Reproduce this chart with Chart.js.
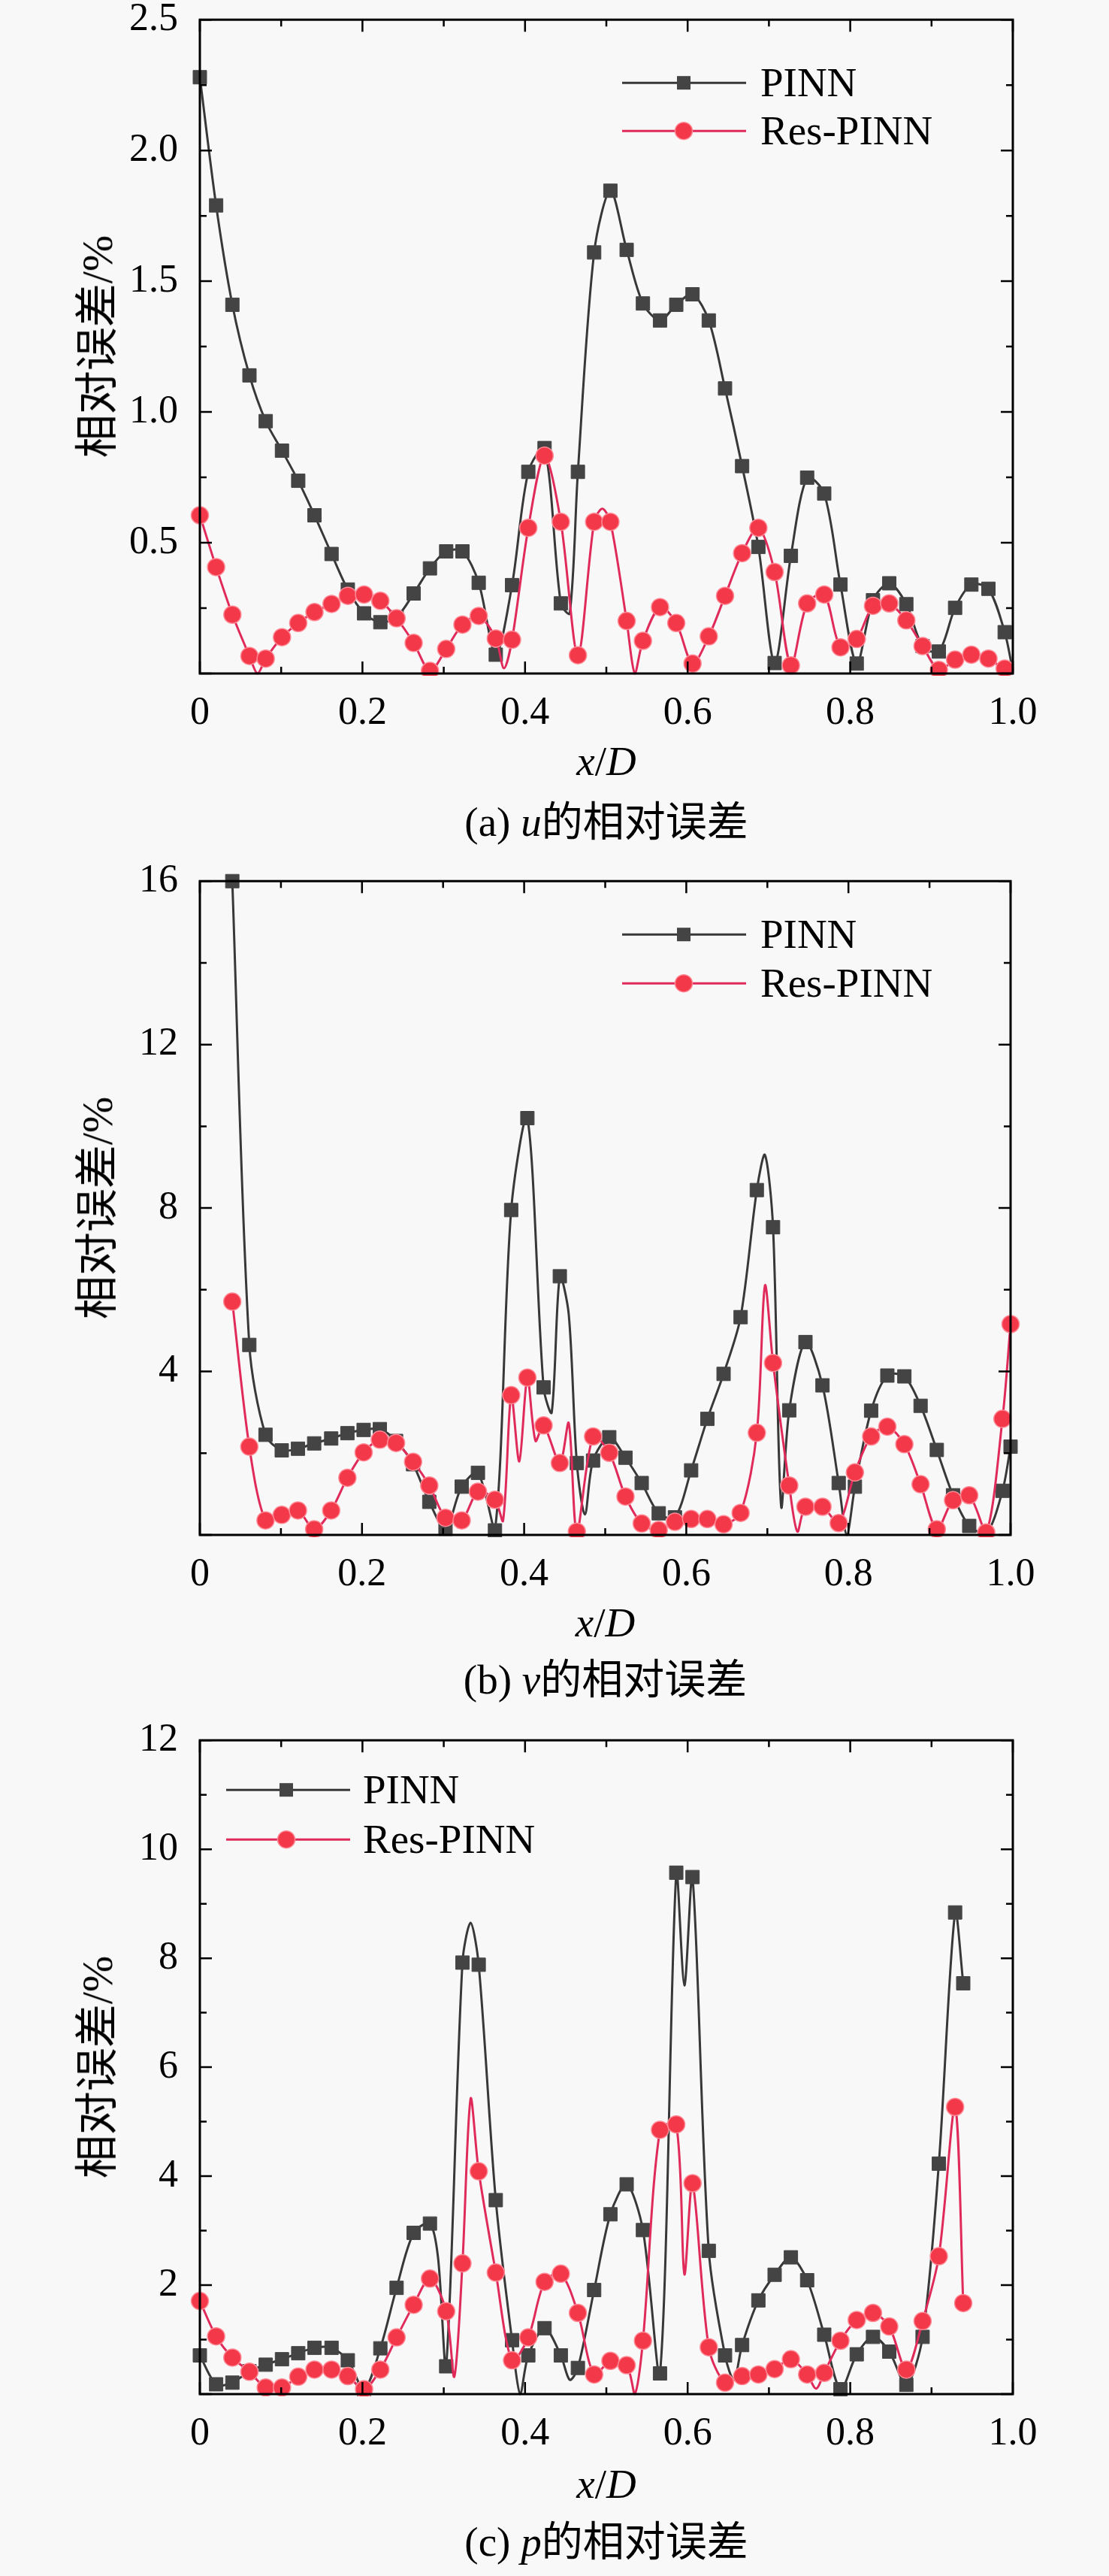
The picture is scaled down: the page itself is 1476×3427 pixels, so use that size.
<!DOCTYPE html>
<html>
<head>
<meta charset="utf-8">
<script src="https://cdn.jsdelivr.net/npm/chart.js"></script>
<style>
body{margin:0;background:#f8f8f8;}
#page{position:relative;width:1476px;height:3427px;overflow:hidden;font-family:'Liberation Serif','Noto Sans CJK SC',serif;color:#000;}
canvas{position:absolute;left:0;}
.lbl{position:absolute;white-space:nowrap;transform:translate(-50%,-50%);line-height:1;}
.ytitle{transform:translate(-50%,-50%) rotate(-90deg);font-size:58px;}
.xtitle{font-size:55px;}
.cap{font-size:55px;}
</style>
</head>
<body>
<div id="page"></div>
<script>
// ================= Data =================
// sample positions x/D shared by all three panels
const xs=[0,0.020,0.040,0.061,0.081,0.101,0.121,0.141,0.162,0.182,0.202,0.222,0.242,0.263,0.283,0.303,0.323,0.343,0.364,0.384,
0.404,0.424,0.444,0.465,0.485,0.505,0.525,0.545,0.566,0.586,0.606,0.626,0.646,0.667,0.687,0.707,0.727,0.747,0.768,0.788,
0.808,0.828,0.848,0.869,0.889,0.909,0.929,0.949,0.970,0.990];
const xsU=xs;
const xsV=xs.concat([1.0]);
const xsP=xs.slice(0,47).concat([0.939]);

// (a) u
const uPinn=[2.28,1.79,1.41,1.14,0.965,0.852,0.737,0.605,0.457,0.321,0.23,0.196,0.215,0.306,0.402,0.467,0.467,0.347,0.072,0.338,
0.771,0.862,0.268,0.771,1.61,1.846,1.62,1.415,1.35,1.41,1.45,1.35,1.09,0.793,0.484,0.04,0.45,0.749,0.688,0.34,
0.038,0.28,0.345,0.265,0.105,0.084,0.251,0.34,0.324,0.158];
const uRes=[0.605,0.407,0.225,0.067,0.057,0.139,0.193,0.235,0.266,0.297,0.302,0.278,0.211,0.117,0.01,0.094,0.187,0.22,0.134,0.129,
0.557,0.833,0.58,0.07,0.58,0.58,0.201,0.125,0.254,0.193,0.038,0.142,0.297,0.46,0.557,0.388,0.031,0.268,0.302,0.10,
0.132,0.259,0.268,0.203,0.105,0.014,0.053,0.072,0.057,0.019];
// vertices of the curves that carry no marker
const uPinnExtra=[[0.455,0.23],[1.0,0.01]];
const uResExtra=[[0.071,0.0],[0.374,0.02],[0.495,0.63],[0.535,0.0],[1.0,0.04]];

// (b) v
const vPinn=[null,null,16.0,4.65,2.45,2.07,2.11,2.24,2.36,2.49,2.57,2.59,2.3,1.73,0.81,0.15,1.18,1.52,0.11,7.95,
10.2,3.61,6.33,1.76,1.82,2.39,1.89,1.27,0.53,0.43,1.58,2.84,3.94,5.33,8.44,7.53,3.05,4.72,3.66,1.27,
1.18,3.04,3.9,3.88,3.16,2.08,0.97,0.22,0.03,1.08,2.16];
const vRes=[null,null,5.71,2.16,0.355,0.49,0.60,0.14,0.60,1.40,2.02,2.33,2.25,1.79,1.21,0.42,0.355,1.06,0.86,3.42,
3.85,2.68,1.76,0.08,2.41,2.01,0.94,0.28,0.12,0.32,0.39,0.39,0.26,0.54,2.5,4.21,1.21,0.69,0.69,0.29,
1.53,2.41,2.65,2.22,1.24,0.14,0.85,0.97,0.06,2.84,5.16];
const vPinnExtra=[[0.434,3.0],[0.455,5.4],[0.475,0.5],[0.697,9.3],[0.717,0.7],[0.798,0.0]];
const vResExtra=[[0.374,0.35],[0.394,1.8],[0.414,2.3],[0.455,2.74],[0.697,6.1],[0.737,0.08]];

// (c) p
const pPinn=[0.71,0.18,0.21,0.42,0.54,0.64,0.75,0.85,0.85,0.62,0.09,0.84,1.95,2.96,3.13,0.51,7.92,7.88,3.56,0.99,
0.71,1.21,0.71,0.48,1.91,3.30,3.85,3.01,0.38,9.57,9.49,2.63,0.71,0.9,1.72,2.19,2.51,2.09,1.09,0.09,
0.73,1.05,0.78,0.17,1.05,4.23,8.84,7.54];
const pRes=[1.71,1.06,0.67,0.41,0.12,0.12,0.32,0.45,0.45,0.33,0.09,0.45,1.04,1.64,2.12,1.52,2.4,4.09,2.23,0.62,
1.04,2.06,2.21,1.49,0.36,0.61,0.53,0.98,4.85,4.95,3.87,0.86,0.21,0.33,0.36,0.46,0.64,0.36,0.39,0.98,
1.36,1.49,1.24,0.45,1.34,2.53,5.27,1.67];
const pPinnExtra=[[0.293,2.5],[0.333,8.65],[0.394,0.0],[0.455,0.26],[0.596,7.5],[0.657,0.26]];
const pResExtra=[[0.313,0.32],[0.333,5.42],[0.535,0.0],[0.596,2.2],[0.758,0.1]];

// tick labels
const xTickLabels=['0','0.2','0.4','0.6','0.8','1.0'];
const uTickLabels=['0.5','1.0','1.5','2.0','2.5'];
const vTickLabels=['4','8','12','16'];
const pTickLabels=['2','4','6','8','10','12'];
const seriesNames=['PINN','Res-PINN'];

// ================= Styles =================
const FONT="'Liberation Serif','Times New Roman',serif";
const PINN_LINE='#383838', PINN_FILL='#444444';
const RES_LINE='#e02a5a', RES_FILL='#f3384a', RES_EDGE='#ff8a96';

const panels=[
    {xs:xsU,pinn:uPinn,res:uRes,pinnX:uPinnExtra,resX:uResExtra,ticks:uTickLabels,ymax:2.5,minor:0.25,
     top:26,right:1348,leg:{x:562,y:[84,148],mx:644,tx:746},xtY:1012,capY:1093,cap:'(a) <i>u</i>的相对误差'},
    {xs:xsV,pinn:vPinn,res:vRes,pinnX:vPinnExtra,resX:vResExtra,ticks:vTickLabels,ymax:16,minor:2,
     top:1172,right:1345,leg:{x:562,y:[71,136],mx:644,tx:746},xtY:2158,capY:2234,cap:'(b) <i>v</i>的相对误差'},
    {xs:xsP,pinn:pPinn,res:pRes,pinnX:pPinnExtra,resX:pResExtra,ticks:pTickLabels,ymax:12,minor:1,
     top:2315,right:1348,leg:{x:35,y:[66,132],mx:115,tx:217},xtY:3304,capY:3381,cap:'(c) <i>p</i>的相对误差'}
];
const LEFT=266, PLOT_H=870, PAD_T=60, XAX_H=90;

function series(xsP,vals,extra){
    const pts=[];
    vals.forEach((v,i)=>{ if(v!==null) pts.push({x:xsP[i],y:v,m:true}); });
    extra.forEach(([x,y])=>pts.push({x:x,y:y,m:false}));
    return pts.sort((a,b)=>a.x-b.x);
}
function labelFor(list,v){
    const hit=list.find(s=>Math.abs(parseFloat(s)-v)<1e-6);
    return hit===undefined?'':hit;
}

// ================= Frame, inward ticks, legend =================
const framePlugin={
    id:'frame',
    afterDraw(chart,args,o){
        const {ctx,chartArea:a,scales:{x,y}}=chart;
        ctx.save();
        ctx.strokeStyle='#000';
        ctx.lineWidth=2.5;
        for(let k=0;k<=Math.round(o.ymax/o.minor);k++){
            const py=y.getPixelForValue(k*o.minor), len=k%2===0?16:9;
            ctx.beginPath();
            ctx.moveTo(a.left,py); ctx.lineTo(a.left+len,py);
            ctx.moveTo(a.right,py); ctx.lineTo(a.right-len,py);
            ctx.stroke();
        }
        for(let k=0;k<=10;k++){
            const px=x.getPixelForValue(k/10), len=k%2===0?16:9;
            ctx.beginPath();
            ctx.moveTo(px,a.bottom); ctx.lineTo(px,a.bottom-len);
            ctx.moveTo(px,a.top); ctx.lineTo(px,a.top+len);
            ctx.stroke();
        }
        ctx.lineWidth=3;
        ctx.strokeRect(a.left,a.top,a.right-a.left,a.bottom-a.top);
        // legend
        const L=o.leg;
        [0,1].forEach(j=>{
            const yy=a.top+L.y[j];
            ctx.beginPath();
            ctx.strokeStyle=j===0?PINN_LINE:RES_LINE;
            ctx.lineWidth=3;
            ctx.moveTo(a.left+L.x,yy); ctx.lineTo(a.left+L.x+165,yy); ctx.stroke();
            if(j===0){
                ctx.fillStyle=PINN_FILL;
                ctx.fillRect(a.left+L.mx-9,yy-9,18,18);
            }else{
                ctx.beginPath();
                ctx.arc(a.left+L.mx,yy,11.5,0,Math.PI*2);
                ctx.fillStyle=RES_FILL; ctx.fill();
                ctx.lineWidth=1.5; ctx.strokeStyle=RES_EDGE; ctx.stroke();
            }
            ctx.fillStyle='#000';
            ctx.font='55px '+FONT;
            ctx.textBaseline='middle';
            ctx.textAlign='left';
            ctx.fillText(seriesNames[j],a.left+L.tx,yy+3);
        });
        ctx.restore();
    }
};

// ================= Build panels =================
const page=document.getElementById('page');
function addLabel(cls,html,x,y){
    const d=document.createElement('div');
    d.className='lbl '+cls; d.innerHTML=html;
    d.style.left=x+'px'; d.style.top=y+'px';
    page.appendChild(d);
}

panels.forEach(p=>{
    const cv=document.createElement('canvas');
    cv.width=1476; cv.height=PAD_T+PLOT_H+XAX_H;
    cv.style.top=(p.top-PAD_T)+'px';
    page.appendChild(cv);
    const clip={left:16,right:16,top:16,bottom:3};
    const chart=new Chart(cv,{
        type:'line',
        data:{datasets:[
            {label:seriesNames[1],data:series(p.xs,p.res,p.resX),borderColor:RES_LINE,borderWidth:3,tension:0.3,
             pointStyle:'circle',pointRadius:c=>c.raw&&c.raw.m?11.5:0,pointBackgroundColor:RES_FILL,
             pointBorderColor:RES_EDGE,pointBorderWidth:1.5,order:1,clip:clip},
            {label:seriesNames[0],data:series(p.xs,p.pinn,p.pinnX),borderColor:PINN_LINE,borderWidth:3,tension:0.3,
             pointStyle:'rect',pointRadius:c=>c.raw&&c.raw.m?12.7:0,pointBackgroundColor:PINN_FILL,
             pointBorderColor:PINN_FILL,pointBorderWidth:1,order:2,clip:clip}
        ]},
        options:{
            responsive:false,devicePixelRatio:1,animation:false,events:[],
            layout:{padding:{top:PAD_T,left:LEFT-200,right:1476-p.right,bottom:0}},
            plugins:{legend:{display:false},tooltip:{enabled:false},
                frame:{ymax:p.ymax,minor:p.minor,leg:p.leg}},
            scales:{
                x:{type:'linear',min:0,max:1,afterFit:s=>{s.height=XAX_H;},
                   grid:{display:false,drawTicks:false},border:{display:false},
                   ticks:{stepSize:0.1,autoSkip:false,maxRotation:0,padding:22,color:'#000',
                          font:{family:FONT,size:52},callback:v=>labelFor(xTickLabels,v)}},
                y:{type:'linear',min:0,max:p.ymax,afterFit:s=>{s.width=200;},
                   grid:{display:false,drawTicks:false},border:{display:false},
                   ticks:{stepSize:p.minor,autoSkip:false,padding:29,color:'#000',
                          font:{family:FONT,size:52},callback:v=>labelFor(p.ticks,v)}}
            }
        },
        plugins:[framePlugin]
    });
    // nudge the paddings so the plot box lands exactly where the reference has it
    for(let k=0;k<3;k++){
        const a=chart.chartArea, pad=chart.options.layout.padding;
        pad.top-=a.top-PAD_T;
        pad.bottom+=a.bottom-(PAD_T+PLOT_H);
        pad.left-=a.left-LEFT;
        pad.right+=a.right-p.right;
        chart.update();
    }
    addLabel('ytitle','相对误差/%',130,p.top+PLOT_H/2);
    addLabel('xtitle','<i>x</i>/<i>D</i>',(LEFT+p.right)/2,p.xtY);
    addLabel('cap',p.cap,(LEFT+p.right)/2,p.capY);
});
</script>
</body>
</html>
